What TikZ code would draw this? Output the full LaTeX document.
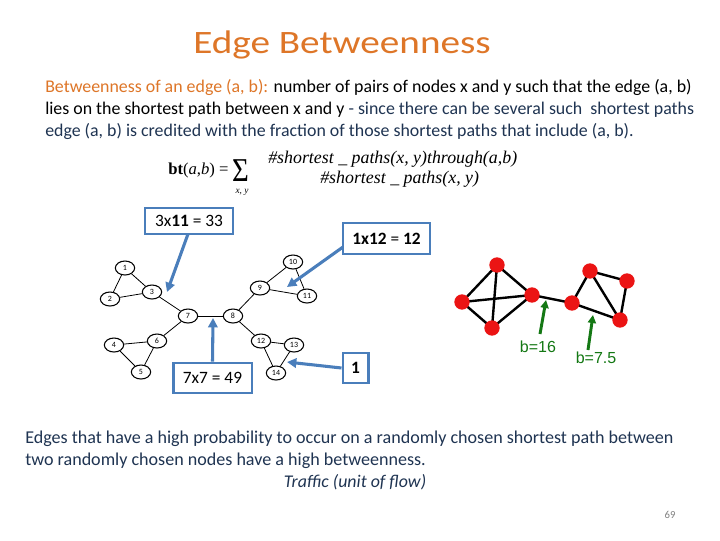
\documentclass[tikz,border=0pt]{standalone}
\usepackage{graphicx}
\usepackage{fontspec}
\setmainfont{Carlito}
\newfontfamily\arialf{Liberation Sans}
\newfontfamily\timesf{Liberation Serif}
\usetikzlibrary{shapes.geometric,arrows.meta}
\definecolor{ttlorange}{RGB}{222,118,40}
\definecolor{navy}{RGB}{31,52,82}
\definecolor{boxblue}{RGB}{74,126,187}
\definecolor{grn}{RGB}{20,120,20}
\definecolor{nodered}{RGB}{235,20,20}
\tikzset{
  gnode/.style={ellipse,draw=black,line width=0.8pt,fill=white,inner sep=0pt,minimum width=14.5pt,minimum height=10.5pt,font=\fontsize{6}{6}\selectfont},
  gedge/.style={line width=0.6pt,black},
  bbox/.style={draw=boxblue,line width=2pt,fill=white,font=\fontsize{13}{14}\selectfont,inner sep=0pt},
  barrow/.style={draw=boxblue,line width=2.3pt,-{Triangle[length=7pt,width=7pt]}},
  rnode/.style={circle,fill=nodered,inner sep=0pt,minimum size=11.5pt},
  redge/.style={line width=1.8pt,black},
  garrow/.style={draw=grn,line width=2.2pt,-{Triangle[length=6pt,width=6pt]}},
  txt/.style={anchor=base west,inner sep=0pt,font=\fontsize{13.4}{15}\selectfont},
  ftxt/.style={inner sep=0pt,font=\timesf\itshape\fontsize{13.4}{14}\selectfont},
}
\begin{document}
\begin{tikzpicture}[x=0.75pt,y=-0.75pt]
\useasboundingbox[fill=white] (0,0) rectangle (720,540);
% title
\node[anchor=base west,inner sep=0pt,text=ttlorange,font=\fontsize{24.5}{28}\selectfont] (title) at (193,53) {\scalebox{1.2}[1]{Edge Betweenness}};
% body text
\node[txt] (l1) at (45,92) {\textcolor{ttlorange}{Betweenness of an edge (a, b):} number of pairs of nodes x and y such that the edge (a, b)};
\node[txt] (l2) at (45,114) {lies on the shortest path between x and y \textcolor{navy}{- since there can be several such\ \ shortest paths}};
\node[txt,text=navy] (l3) at (45,136) {edge (a, b) is credited with the fraction of those shortest paths that include (a, b).};
% formula
\node[anchor=base west,inner sep=0pt,font=\timesf\fontsize{12.5}{13}\selectfont] (flhs) at (168,174) {\textbf{bt}(\textit{a},\textit{b}) =};
\node[anchor=base,inner sep=0pt,font=\timesf\fontsize{20}{20}\selectfont] (fsum) at (240.5,181) {\scalebox{1.08}[1.25]{Σ}};
\node[ftxt,font=\timesf\itshape\fontsize{7}{8}\selectfont] (fxy) at (242,192) {x, y};
\node[ftxt,anchor=base west] (fnum) at (268,163) {\#shortest \_ paths(x, y)through(a,b)};
\node[ftxt,anchor=base west] (fden) at (320,183) {\#shortest \_ paths(x, y)};
% left graph
\node[gnode] (n1) at (125,268) {1};
\node[gnode] (n2) at (110,299) {2};
\node[gnode] (n3) at (152,292) {3};
\node[gnode] (n7) at (188,316) {7};
\node[gnode] (n8) at (233,316) {8};
\node[gnode] (n9) at (260,288) {9};
\node[gnode] (n10) at (293,262) {10};
\node[gnode] (n11) at (307,296) {11};
\node[gnode] (n6) at (157,341) {6};
\node[gnode] (n4) at (114,345) {4};
\node[gnode] (n5) at (141,372) {5};
\node[gnode] (n12) at (261,341) {12};
\node[gnode] (n13) at (294,345) {13};
\node[gnode] (n14) at (276,373) {14};
\foreach \a/\b in {n1/n2,n1/n3,n2/n3,n3/n7,n7/n8,n8/n9,n9/n10,n9/n11,n10/n11,n7/n6,n6/n4,n6/n5,n4/n5,n8/n12,n12/n13,n12/n14,n13/n14}
  \draw[gedge] (\a) -- (\b);
% boxes
\node[bbox,minimum width=66pt,minimum height=19.5pt] (b1) at (189,221) {3x\textbf{11} = 33};
\node[bbox,minimum width=65.25pt,minimum height=23.25pt] (b2) at (386.5,238.5) {\textbf{1x12} = \textbf{12}};
\node[bbox,minimum width=59pt,minimum height=22.5pt] (b3) at (212.5,378) {7x7 = 49};
\node[bbox,minimum width=19pt,minimum height=22.5pt] (b4) at (355.5,368) {\textbf{1}};
\coordinate (t1) at (167,292);
\coordinate (t2) at (287,287);
\coordinate (t3) at (213,318);
\coordinate (t4) at (287,362);
\coordinate (s1) at (188,234);
\coordinate (s2) at (343,247);
\draw[barrow] (s1) -- (t1);
\draw[barrow] (s2) -- (t2);
\draw[barrow] (b3.north) -- (t3);
\draw[barrow] (b4.west) -- (t4);
% right graph
\coordinate (ra) at (497,265);
\coordinate (rb) at (462,302);
\coordinate (rc) at (492,328);
\coordinate (rd) at (532,295);
\coordinate (re) at (572,303);
\coordinate (rf) at (590,271);
\coordinate (rg) at (627,281);
\coordinate (rh) at (620,320);
\foreach \a/\b in {ra/rb,ra/rc,ra/rd,rb/rd,rb/rc,rc/rd,rd/re,re/rf,re/rh,rf/rg,rf/rh,rg/rh}
  \draw[redge] (\a) -- (\b);
\foreach \n in {ra,rb,rc,rd,re,rf,rg,rh}
  \node[rnode] (v\n) at (\n) {};
% green labels
\node[inner sep=0pt,text=grn,font=\arialf\fontsize{12}{13}\selectfont] (g1) at (538,347) {b=16};
\node[inner sep=0pt,text=grn,font=\arialf\fontsize{12}{13}\selectfont] (g2) at (596,358) {b=7.5};
\coordinate (gs1) at (540,334);
\coordinate (gt1) at (546,300);
\coordinate (gs2) at (588,350);
\coordinate (gt2) at (593,315);
\draw[garrow] (gs1) -- (gt1);
\draw[garrow] (gs2) -- (gt2);
% bottom text
\node[txt,text=navy,font=\fontsize{13.55}{15}\selectfont] (m1) at (25,443) {Edges that have a high probability to occur on a randomly chosen shortest path between};
\node[txt,text=navy,font=\fontsize{13.55}{15}\selectfont] (m2) at (25,465) {two randomly chosen nodes have a high betweenness.};
\node[anchor=base,inner sep=0pt,text=navy,font=\fontsize{13.4}{15}\selectfont\itshape] (m3) at (355,487) {Traffic (unit of flow)};
\node[inner sep=0pt,text=gray,font=\fontsize{8}{9}\selectfont] (pg) at (670,515) {69};
\end{tikzpicture}
\end{document}
